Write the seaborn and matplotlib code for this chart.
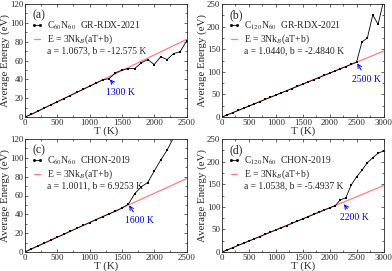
import numpy as np
import pandas as pd
import matplotlib
matplotlib.use('Agg')
import matplotlib.pyplot as plt
from matplotlib.ticker import AutoMinorLocator
from matplotlib.lines import Line2D
import seaborn as sns

sns.set_style('ticks')
plt.rcParams['font.family'] = ['Liberation Serif', 'DejaVu Serif']
plt.rcParams['mathtext.fontset'] = 'stix'

# temperaturas (K)
T_a = list(range(0, 2600, 100))
T_b = list(range(0, 3100, 100))
T_c = list(range(0, 2400, 100))
T_d = list(range(0, 3100, 100))

# energia media (eV)
E_a = [0.0, 2.9, 6.2, 9.5, 12.9, 16.2, 19.5, 22.8, 26.1, 29.4, 32.7, 36.0, 39.3,
       40.8, 46.9, 49.7, 51.5, 51.5, 57.5, 61.0, 55.7, 63.9, 61.0, 67.4, 69.2, 80.6]
E_b = [0.0, 4.7, 9.6, 14.5, 19.3, 24.2, 29.0, 33.9, 38.8, 43.6, 48.5, 53.3, 58.2,
       63.0, 67.9, 72.8, 77.6, 82.5, 87.3, 92.2, 97.0, 101.9, 106.8, 111.6, 116.5,
       121.3, 166.4, 174.5, 225.6, 205.3, 256.0]
E_c = [0.0, 3.3, 6.4, 9.5, 12.6, 15.7, 18.8, 22.0, 25.1, 28.2, 31.3, 34.4, 37.5,
       40.4, 43.2, 46.6, 50.8, 62.1, 69.2, 73.8, 85.9, 97.6, 108.3, 121.5]
E_d = [0.0, 4.7, 9.6, 14.5, 19.4, 24.3, 29.2, 34.1, 39.0, 43.9, 48.8, 53.7, 58.6,
       63.5, 68.4, 73.3, 78.2, 83.1, 88.0, 92.9, 97.8, 102.2, 115.5, 119.8, 148.0,
       166.4, 181.0, 197.5, 208.5, 218.5, 223.5]

# retas de ajuste (extremos)
fit_T_a, fit_E_a = [0, 2500], [-0.39, 82.4]
fit_T_b, fit_E_b = [0, 3000], [-0.12, 145.6]
fit_T_c, fit_E_c = [0, 2500], [0.21, 77.85]
fit_T_d, fit_E_d = [0, 3000], [-0.26, 146.8]

paineis = ['(a)', '(b)', '(c)', '(d)']
legendas = [r'C$_{60}$N$_{60}$  GR-RDX-2021', r'C$_{120}$N$_{60}$  GR-RDX-2021',
            r'C$_{60}$N$_{60}$  CHON-2019', r'C$_{120}$N$_{60}$  CHON-2019']
params = ['a = 1.0673, b = -12.575 K', 'a = 1.0440, b = -2.4840 K',
          'a = 1.0011, b = 6.9253 K', 'a = 1.0538, b = -5.4937 K']
fusao = ['1300 K', '2500 K', '1600 K', '2200 K']
seta_xy = [(1300, 41), (2500, 121.3), (1600, 50.8), (2250, 108)]
texto_xy = [(1480, 26.5), (2683, 84), (1767, 33), (2450, 76)]
xmax = [2500, 3000, 2500, 3000]
ymax = [120, 250, 120, 250]

dados = [(T_a, E_a, fit_T_a, fit_E_a), (T_b, E_b, fit_T_b, fit_E_b),
         (T_c, E_c, fit_T_c, fit_E_c), (T_d, E_d, fit_T_d, fit_E_d)]

W, H = 392, 271
pos = [(25, 4), (222, 4), (25, 139), (222, 139)]

fig = plt.figure(figsize=(W / 100, H / 100), dpi=100)
red = '#ff7f7f'

for i in range(4):
    x0, y0 = pos[i]
    ax = fig.add_axes([x0 / W, (H - y0 - 113) / H, 161.5 / W, 113 / H])
    T, E, fT, fE = dados[i]
    df = pd.DataFrame({'T': T, 'E': E})
    dfit = pd.DataFrame({'T': fT, 'E': fE})
    sns.lineplot(data=dfit, x='T', y='E', ax=ax, color=red, lw=0.9)
    sns.lineplot(data=df, x='T', y='E', ax=ax, color='black', lw=0.6,
                 marker='s', markersize=1.6, markeredgewidth=0)
    ax.set_xlim(0, xmax[i])
    ax.set_ylim(0, ymax[i])
    ax.set_xticks(np.arange(0, xmax[i] + 1, 500))
    ax.set_yticks(np.arange(0, ymax[i] + 1, 20 if ymax[i] == 120 else 50))
    ax.xaxis.set_minor_locator(AutoMinorLocator(2))
    ax.yaxis.set_minor_locator(AutoMinorLocator(2))
    ax.tick_params(which='both', direction='in', top=True, right=True,
                   labelsize=6.3, pad=1.2, width=0.5)
    ax.tick_params(which='major', length=2.5)
    ax.tick_params(which='minor', length=1.3)
    for s in ax.spines.values():
        s.set_linewidth(0.6)
    ax.set_xlabel('T (K)', fontsize=7.8, labelpad=-0.5)
    ax.set_ylabel('Average Energy (eV)', fontsize=7.8, labelpad=0)
    ax.text(0.045, 0.95, paineis[i], transform=ax.transAxes, fontsize=8.5,
            va='top', ha='left')
    h = [Line2D([], [], color='black', lw=0.6, marker='s', markersize=1.0),
         Line2D([], [], color=red, lw=0.9),
         Line2D([], [], color='none')]
    ax.legend(h, [legendas[i], r'E = 3Nk$_B$(aT+b)', params[i]],
              loc='upper left', bbox_to_anchor=(0.04, 0.86), frameon=False,
              fontsize=6.9, handlelength=1.2, handletextpad=0.45, labelspacing=0.05,
              borderaxespad=0, borderpad=0, numpoints=2)
    ax.annotate(fusao[i], xy=seta_xy[i], xytext=texto_xy[i], color='blue',
                fontsize=7, ha='center', va='center',
                arrowprops=dict(arrowstyle='->', color='blue', lw=0.7,
                                shrinkA=1, shrinkB=1))

fig.savefig('out.png', dpi=100)
